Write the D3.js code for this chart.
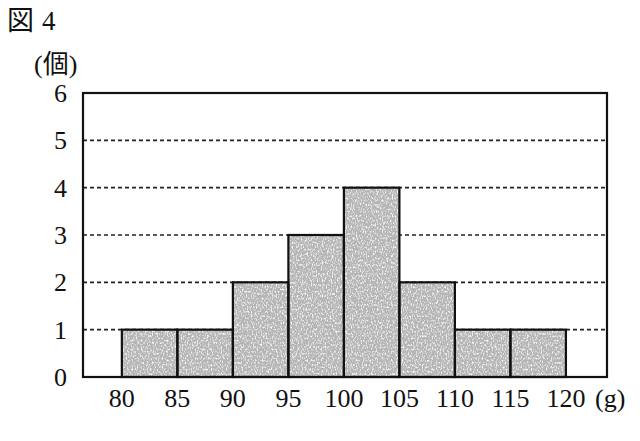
<!DOCTYPE html>
<html>
<head>
<meta charset="utf-8">
<script src="https://cdn.jsdelivr.net/npm/d3@7"></script>
<style>
  body { margin: 0; background: #fff; }
  svg text { font-family: "Liberation Serif", "Noto Sans CJK JP", serif; fill: #111; }
</style>
</head>
<body>
<div id="chart"></div>
<script>
// histogram bins (g) and counts
var binStarts = [80, 85, 90, 95, 100, 105, 110, 115];
var binWidth = 5;
var counts = [1, 1, 2, 3, 4, 2, 1, 1];
var xTicks = [80, 85, 90, 95, 100, 105, 110, 115, 120];
var yTicks = [0, 1, 2, 3, 4, 5, 6];

var width = 640, height = 441;
var frame = { left: 83, right: 607, top: 93, bottom: 377 };

var svg = d3.select("#chart").append("svg")
    .attr("width", width)
    .attr("height", height);

var x = d3.scaleLinear().domain([76.5, 123.7]).range([frame.left, frame.right]);
var y = d3.scaleLinear().domain([0, 6]).range([frame.bottom, frame.top]);

// speckled gray texture for the bars
var defs = svg.append("defs");
var filt = defs.append("filter").attr("id", "grain")
    .attr("x", 0).attr("y", 0).attr("width", 1).attr("height", 1);
filt.append("feTurbulence").attr("type", "fractalNoise")
    .attr("baseFrequency", "0.8 0.45").attr("numOctaves", 2).attr("seed", 3).attr("result", "n");
filt.append("feColorMatrix").attr("in", "n").attr("type", "matrix")
    .attr("values", "0 0 0 0 1  0 0 0 0 1  0 0 0 0 1  0 0 0 3 -1.45").attr("result", "w");
filt.append("feFlood").attr("flood-color", "#b5b5b5").attr("result", "g");
filt.append("feMerge").call(function (m) {
    m.append("feMergeNode").attr("in", "g");
    m.append("feMergeNode").attr("in", "w");
});

// title
svg.append("text").attr("x", 7).attr("y", 30).attr("font-size", 27).text("図");
svg.append("text").attr("x", 42).attr("y", 30).attr("font-size", 27).text("4");
svg.append("text").attr("x", 34).attr("y", 73).attr("font-size", 26).text("(個)");

// dashed grid lines
svg.append("g").selectAll("line")
    .data(yTicks.filter(function (d) { return d > 0 && d < 6; }))
    .enter().append("line")
    .attr("x1", frame.left).attr("x2", frame.right)
    .attr("y1", function (d) { return y(d); })
    .attr("y2", function (d) { return y(d); })
    .attr("stroke", "#222").attr("stroke-width", 1.6)
    .attr("stroke-dasharray", "4,3");

// bars
svg.append("g").selectAll("rect")
    .data(binStarts.map(function (s, i) { return { s: s, c: counts[i] }; }))
    .enter().append("rect")
    .attr("x", function (d) { return x(d.s); })
    .attr("y", function (d) { return y(d.c); })
    .attr("width", function (d) { return x(d.s + binWidth) - x(d.s); })
    .attr("height", function (d) { return y(0) - y(d.c); })
    .attr("fill", "#b5b5b5")
    .attr("filter", "url(#grain)");

svg.append("g").selectAll("rect")
    .data(binStarts.map(function (s, i) { return { s: s, c: counts[i] }; }))
    .enter().append("rect")
    .attr("x", function (d) { return x(d.s); })
    .attr("y", function (d) { return y(d.c); })
    .attr("width", function (d) { return x(d.s + binWidth) - x(d.s); })
    .attr("height", function (d) { return y(0) - y(d.c); })
    .attr("fill", "none")
    .attr("stroke", "#111").attr("stroke-width", 2.2);

// frame
svg.append("rect")
    .attr("x", frame.left).attr("y", frame.top)
    .attr("width", frame.right - frame.left)
    .attr("height", frame.bottom - frame.top)
    .attr("fill", "none").attr("stroke", "#111").attr("stroke-width", 2.2);

// y labels
svg.append("g").selectAll("text")
    .data(yTicks).enter().append("text")
    .attr("x", 67)
    .attr("y", function (d) { return y(d); })
    .attr("dy", "0.34em")
    .attr("text-anchor", "end")
    .attr("font-size", 26)
    .text(function (d) { return d; });

// x labels
svg.append("g").selectAll("text")
    .data(xTicks).enter().append("text")
    .attr("x", function (d) { return x(d); })
    .attr("y", 407)
    .attr("text-anchor", "middle")
    .attr("font-size", 26)
    .text(function (d) { return d; });

svg.append("text").attr("x", 595).attr("y", 407).attr("font-size", 26).text("(g)");
</script>
</body>
</html>
